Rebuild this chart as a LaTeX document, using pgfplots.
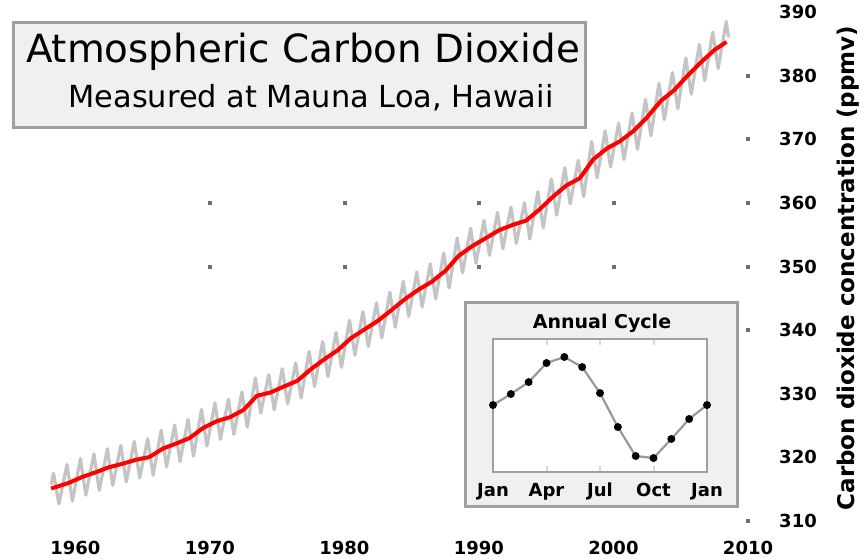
\documentclass[border=0pt]{standalone}
\usepackage{pgfplots}
\pgfplotsset{compat=1.18}
\usepackage{fontspec}
\setmainfont{DejaVu Sans}
\definecolor{boxfill}{HTML}{F0F0F0}
\definecolor{boxline}{HTML}{A0A0A0}
\definecolor{dotgray}{HTML}{6E6E6E}
\definecolor{seas}{HTML}{C4C4C4}
\begin{document}
\begin{tikzpicture}
\useasboundingbox (0pt,-19.5pt) rectangle (433pt,260.5pt);
\begin{axis}[
  at={(0pt,0pt)}, anchor=south west, scale only axis,
  width=374pt, height=254.5pt,
  xmin=1954.4, xmax=2010, ymin=310, ymax=390,
  axis line style={draw=none}, tick style={draw=none},
  xtick={1960,1970,1980,1990,2000,2010},
  xticklabels={1960,1970,1980,1990,2000,2010},
  ytick={310,320,330,340,350,360,370,380,390},
  yticklabels={310,320,330,340,350,360,370,380,390},
  yticklabel pos=right,
  xticklabel style={anchor=center, yshift=-13.5pt, font=\bfseries\fontsize{9}{9}\selectfont},
  yticklabel style={anchor=center, xshift=25pt, font=\bfseries\fontsize{9}{9}\selectfont},
  clip=false,
]
% grid dots
\addplot[only marks, mark=square*, mark size=0.75pt, color=dotgray] coordinates {
(1970,350) (1970,360) (1980,350) (1980,360) (1990,350) (1990,360) (2000,350) (2000,360)
(2010,310) (2010,340) (2010,350) (2010,360) (2010,370) (2010,380)};
% monthly (seasonal) values
\addplot[color=seas, line width=1.6pt, line join=round] coordinates {
(1958.20,315.71) (1958.38,317.50) (1958.78,312.70)
(1959.38,318.88) (1959.78,313.13)
(1960.38,319.81) (1960.78,314.06)
(1961.38,320.54) (1961.78,314.79)
(1962.38,321.35) (1962.78,315.60)
(1963.38,321.89) (1963.78,316.14)
(1964.38,322.52) (1964.78,316.77)
(1965.38,322.94) (1965.78,317.19)
(1966.38,324.27) (1966.78,318.52)
(1967.38,325.08) (1967.78,319.33)
(1968.38,325.95) (1968.78,320.20)
(1969.38,327.52) (1969.78,321.77)
(1970.38,328.58) (1970.78,322.83)
(1971.38,329.12) (1971.78,323.62)
(1972.38,330.26) (1972.78,324.76)
(1973.38,332.48) (1973.78,326.98)
(1974.38,332.99) (1974.78,327.49)
(1975.38,333.93) (1975.78,328.43)
(1976.38,334.83) (1976.78,329.33)
(1977.38,336.64) (1977.78,331.14)
(1978.38,338.21) (1978.78,332.71)
(1979.38,339.64) (1979.78,334.14)
(1980.38,341.56) (1980.78,336.06)
(1981.38,342.92) (1981.78,337.42)
(1982.38,344.28) (1982.78,338.78)
(1983.38,345.95) (1983.78,340.45)
(1984.38,347.67) (1984.78,342.17)
(1985.38,349.15) (1985.78,343.65)
(1986.38,350.41) (1986.78,344.91)
(1987.38,352.11) (1987.78,346.61)
(1988.38,354.49) (1988.78,348.99)
(1989.38,356.00) (1989.78,350.50)
(1990.38,357.25) (1990.78,351.75)
(1991.38,358.50) (1991.78,352.80)
(1992.38,359.34) (1992.78,353.64)
(1993.38,360.01) (1993.78,354.31)
(1994.38,361.76) (1994.78,356.06)
(1995.38,363.77) (1995.78,358.07)
(1996.38,365.54) (1996.78,359.84)
(1997.38,366.68) (1997.78,360.98)
(1998.38,369.64) (1998.78,363.94)
(1999.38,371.34) (1999.78,365.64)
(2000.38,372.51) (2000.78,366.81)
(2001.38,374.12) (2001.78,368.42)
(2002.38,376.25) (2002.78,370.55)
(2003.38,378.78) (2003.78,373.08)
(2004.38,380.50) (2004.78,374.80)
(2005.38,382.78) (2005.78,377.08)
(2006.38,384.89) (2006.78,379.19)
(2007.38,386.82) (2007.78,381.12)
(2008.38,388.50) (2008.55,386.00)
};
% deseasonalized trend
\addplot[color=red, line width=2pt, line join=round] coordinates {
(1958.20,315.10)
(1959.5,315.98) (1960.5,316.91) (1961.5,317.64) (1962.5,318.45) (1963.5,318.99)
(1964.5,319.62) (1965.5,320.04) (1966.5,321.37) (1967.5,322.18) (1968.5,323.05)
(1969.5,324.62) (1970.5,325.68) (1971.5,326.32) (1972.5,327.46) (1973.5,329.68)
(1974.5,330.19) (1975.5,331.13) (1976.5,332.03) (1977.5,333.84) (1978.5,335.41)
(1979.5,336.84) (1980.5,338.76) (1981.5,340.12) (1982.5,341.48) (1983.5,343.15)
(1984.5,344.87) (1985.5,346.35) (1986.5,347.61) (1987.5,349.31) (1988.5,351.69)
(1989.5,353.20) (1990.5,354.45) (1991.5,355.70) (1992.5,356.54) (1993.5,357.21)
(1994.5,358.96) (1995.5,360.97) (1996.5,362.74) (1997.5,363.88) (1998.5,366.84)
(1999.5,368.54) (2000.5,369.71) (2001.5,371.32) (2002.5,373.45) (2003.5,375.98)
(2004.5,377.70) (2005.5,379.98) (2006.5,382.09) (2007.5,384.02) (2008.4,385.30)
};
\end{axis}
% y axis title
\node[rotate=90, font=\bfseries\fontsize{11.5}{11.5}\selectfont] at (424pt,126.5pt) {Carbon dioxide concentration (ppmv)};
% title box
\draw[fill=boxfill, draw=boxline, line width=1.5pt] (6.5pt,249pt) rectangle (292.5pt,196.5pt);
\node[font=\fontsize{19.4}{19.4}\selectfont] at (151.5pt,234.5pt) {Atmospheric Carbon Dioxide};
\node[font=\fontsize{15.2}{15.2}\selectfont] at (155.5pt,211.5pt) {Measured at Mauna Loa, Hawaii};
% inset box
\draw[fill=boxfill, draw=boxline, line width=1.5pt] (232.5pt,7pt) rectangle (368.5pt,109pt);
\node[font=\bfseries\fontsize{9.5}{9.5}\selectfont] at (301pt,99pt) {Annual Cycle};
\begin{axis}[
  at={(246.5pt,24.5pt)}, anchor=south west, scale only axis,
  width=107pt, height=66.5pt,
  xmin=0, xmax=12, ymin=-4.32, ymax=4.26,
  axis background/.style={fill=white},
  axis line style={draw=boxline, line width=1pt},
  xtick={0,3,6,9,12}, xticklabels={Jan,Apr,Jul,Oct,Jan},
  ytick=\empty,
  tick style={draw=gray!30, line width=1pt}, major tick length=3pt,
  xticklabel style={anchor=base, yshift=-12.5pt, font=\bfseries\fontsize{9}{9}\selectfont},
  clip=false,
]
\addplot[color=gray!80, line width=1.1pt, mark=*, mark size=1.4pt,
  mark options={fill=black, draw=black}] coordinates {
(0,0.0) (1,0.71) (2,1.48) (3,2.71) (4,3.10) (5,2.45) (6,0.77)
(7,-1.42) (8,-3.29) (9,-3.42) (10,-2.19) (11,-0.90) (12,0.0)};
\end{axis}
\end{tikzpicture}
\end{document}
